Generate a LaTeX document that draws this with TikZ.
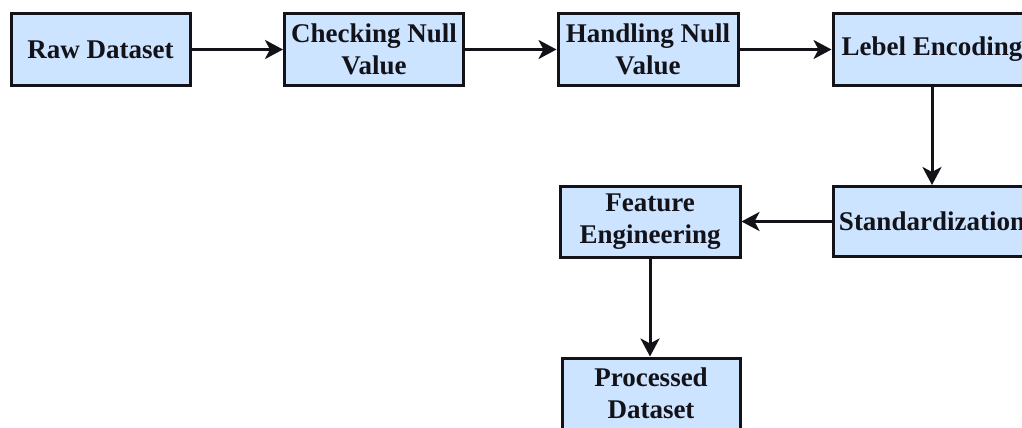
\documentclass[tikz,border=0pt]{standalone}
\usepackage{fontspec}
\setmainfont{Liberation Serif}
\usetikzlibrary{arrows.meta}
\definecolor{boxfill}{RGB}{204,228,255}
\definecolor{ink}{RGB}{18,18,24}
\tikzset{
  stage/.style={draw=ink, fill=boxfill, line width=3pt, rectangle,
    minimum width=179pt, minimum height=71pt, inner sep=0pt, align=center,
    font=\fontsize{27}{32}\selectfont\bfseries, text=ink},
  flow/.style={draw=ink, line width=3pt,
    -{Stealth[length=18pt, width=19pt, inset=5pt]}}
}
\begin{document}
\begin{tikzpicture}[x=1pt, y=1pt]
  \useasboundingbox (0,0) rectangle (1022,-428);
  \clip (0,0) rectangle (1022,-428);
  \fill[white] (0,0) rectangle (1022,-428);

  \node[stage] (raw) at (100.5,-49.5) {Raw Dataset};
  \node[stage] (check) at (374,-49.5) {Checking Null\\Value};
  \node[stage, minimum width=180pt] (handle) at (648,-49.5) {Handling Null\\Value};
  \node[stage, minimum width=198pt] (label) at (932,-49.5) {Lebel Encoding};
  \node[stage, minimum width=198pt, minimum height=70pt] (std) at (932,-221.5) {Standardization};
  \node[stage, minimum width=180pt] (feat) at (650,-221.5) {Feature\\Engineering};
  \node[stage, minimum width=178pt] (proc) at (651,-393.5) {Processed\\Dataset};

  \draw[flow] (raw) -- (check);
  \draw[flow] (check) -- (handle);
  \draw[flow] (handle) -- (label);
  \draw[flow] (label) -- (std);
  \draw[flow] (std) -- (feat);
  \draw[flow] (feat.south) -- (feat.south |- proc.north);
\end{tikzpicture}
\end{document}
